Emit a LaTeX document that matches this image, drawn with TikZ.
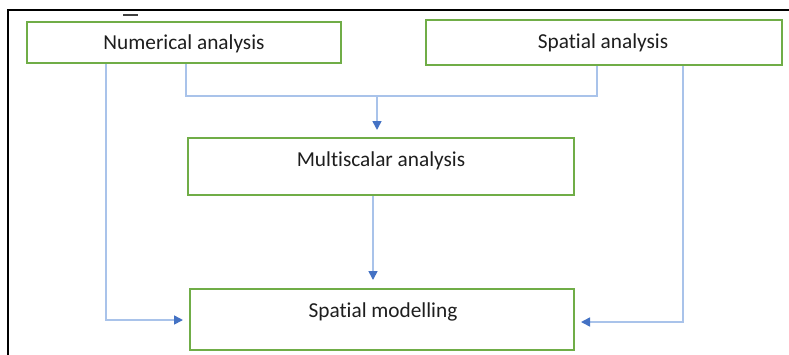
\documentclass[tikz,border=0pt]{standalone}
\usepackage{fontspec}
\setmainfont{Carlito}[Ligatures=NoCommon]
\usetikzlibrary{arrows.meta,calc}
\definecolor{boxgreen}{HTML}{70AD47}
\definecolor{linkblue}{HTML}{A9C3EA}
\definecolor{tipblue}{HTML}{4472C4}
\definecolor{txtgray}{HTML}{1E1E1E}
\tikzset{
  box/.style={draw=boxgreen, line width=2pt, fill=white, inner sep=0pt, anchor=center},
  lbl/.style={text=txtgray, font=\fontsize{21.3}{25}\selectfont, inner sep=0pt, anchor=center},
  link/.style={draw=linkblue, line width=1.6pt},
  arr/.style={link, -{Triangle[length=9pt,width=9pt,color=tipblue]}},
}
\begin{document}
\begin{tikzpicture}[x=1pt,y=-1pt]
\useasboundingbox (0,0) rectangle (789,354);
\fill[white] (0,0) rectangle (789,354);
% outer frame
\draw[black, line width=2pt] (8,360) -- (8,10) -- (795,10);
\draw[black!75, line width=2pt] (123,15) -- (138,15);
% boxes
\node[box, minimum width=314pt, minimum height=41pt] (num) at (184,42.5) {};
\node[box, minimum width=356pt, minimum height=45pt] (spa) at (604,42.5) {};
\node[box, minimum width=386pt, minimum height=57pt] (mul) at (381,166.5) {};
\node[box, minimum width=384pt, minimum height=61pt] (mod) at (382,319.5) {};
% labels
\node[lbl] (numt) at (184,44) {Numerical analysis};
\node[lbl] (spat) at (603,43) {Spatial analysis};
\node[lbl] (mult) at (381,161) {Multiscalar analysis};
\node[lbl] (modt) at (383,312) {Spatial modelling};
% helper coordinates
\coordinate (c1) at (106,320);
\coordinate (c2) at (186,96);
\coordinate (c3) at (597,96);
\coordinate (c4) at (377,96);
\coordinate (c5) at (683,322);
\coordinate (c6) at (373,195);
% connectors
\draw[arr, shorten >=6pt] (num.south -| c1) -- (c1) -- (mod.west |- c1);
\draw[link] (num.south -| c2) -- (c2) -- (c3) -- (spa.south -| c3);
\draw[arr, shorten >=7pt] (c4) -- (mul.north -| c4);
\draw[arr, shorten >=6pt] (spa.south -| c5) -- (c5) -- (mod.east |- c5);
\draw[arr, shorten >=8pt] (mul.south -| c6) -- (mod.north -| c6);
\end{tikzpicture}
\end{document}
